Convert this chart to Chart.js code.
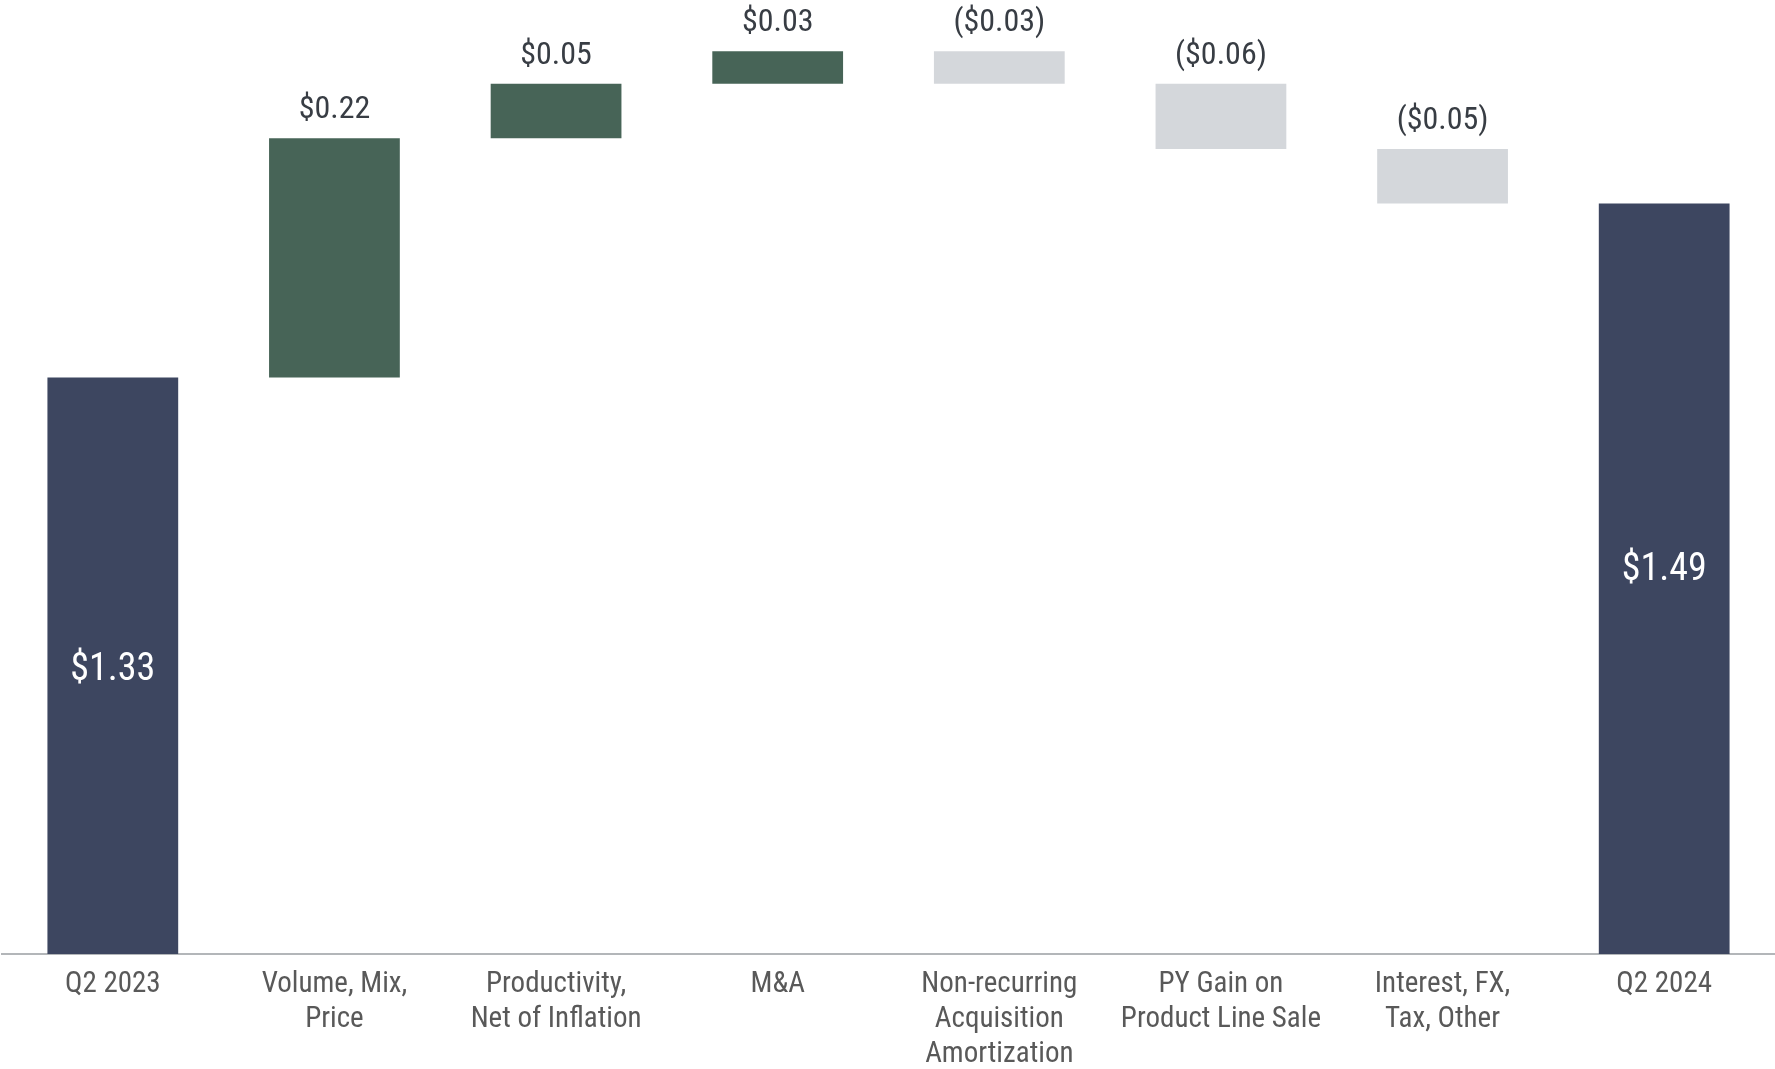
<!DOCTYPE html>
<html>
<head>
<meta charset="utf-8">
<script src="https://cdn.jsdelivr.net/npm/chart.js@4"></script>
<style>
  html, body { margin: 0; padding: 0; background: #fff; }
  #wrap { width: 1775px; height: 1069px; position: relative; }
</style>
</head>
<body>
<div id="wrap"><canvas id="bridge"></canvas></div>
<script>
// 数据
const categories = [
  'Q2 2023',
  ['Volume, Mix,', 'Price'],
  ['Productivity,', 'Net of Inflation'],
  'M&A',
  ['Non-recurring', 'Acquisition', 'Amortization'],
  ['PY Gain on', 'Product Line Sale'],
  ['Interest, FX,', 'Tax, Other'],
  'Q2 2024'
];
const startValue = 1.33;
const changes = [0.22, 0.05, 0.03, -0.03, -0.06, -0.05];
const endValue = 1.49;
const Y_MIN = 0.8;
const Y_MAX = 1.677;

const COLORS = {
  total: '#3d4660',
  up: '#476457',
  down: '#d4d7db',
  axis: '#b3b6b9',
  tick: '#595959',
  label: '#383d44'
};

const FONT = "'Roboto Condensed', 'Liberation Sans Narrow', 'DejaVu Sans Condensed', Roboto, sans-serif";

// 浮动柱：[低, 高]
const ranges = [];
const colors = [];
const labels = [];
ranges.push([Y_MIN, startValue]);
colors.push(COLORS.total);
labels.push('$' + startValue.toFixed(2));
let run = startValue;
changes.forEach(c => {
  const next = run + c;
  ranges.push([Math.min(run, next), Math.max(run, next)]);
  colors.push(c >= 0 ? COLORS.up : COLORS.down);
  labels.push(c >= 0 ? '$' + c.toFixed(2) : '($' + Math.abs(c).toFixed(2) + ')');
  run = next;
});
ranges.push([Y_MIN, endValue]);
colors.push(COLORS.total);
labels.push('$' + endValue.toFixed(2));

// 数值标签插件（合计柱内白字，变动柱上方）
const valueLabels = {
  id: 'valueLabels',
  afterDatasetsDraw(chart) {
    const ctx = chart.ctx;
    const meta = chart.getDatasetMeta(0);
    const last = meta.data.length - 1;
    ctx.save();
    ctx.textAlign = 'center';
    ctx.textBaseline = 'middle';
    meta.data.forEach((bar, i) => {
      if (i === 0 || i === last) {
        ctx.font = '38px ' + FONT;
        ctx.fillStyle = '#ffffff';
        const nudge = i === 0 ? 5 : -8;
        ctx.fillText(labels[i], bar.x, (bar.y + bar.base) / 2 + nudge);
      } else {
        ctx.font = '32px ' + FONT;
        ctx.fillStyle = COLORS.label;
        const top = Math.min(bar.y, bar.base);
        ctx.fillText(labels[i], bar.x, top - 28);
      }
    });
    ctx.restore();
  }
};

new Chart(document.getElementById('bridge'), {
  type: 'bar',
  data: {
    labels: categories,
    datasets: [{
      data: ranges,
      backgroundColor: colors,
      borderWidth: 0,
      barPercentage: 0.59,
      categoryPercentage: 1.0
    }]
  },
  options: {
    responsive: true,
    maintainAspectRatio: false,
    animation: false,
    layout: { padding: { left: 2, right: 0, top: 0, bottom: 0 } },
    plugins: {
      legend: { display: false },
      tooltip: { enabled: false }
    },
    scales: {
      x: {
        grid: { display: false, drawTicks: false },
        border: { display: true, color: COLORS.axis, width: 2 },
        ticks: {
          color: COLORS.tick,
          font: { family: FONT, size: 29, lineHeight: 1.21 },
          padding: 13,
          maxRotation: 0,
          autoSkip: false
        },
        afterFit(scale) { scale.height = 115; }
      },
      y: {
        display: false,
        min: Y_MIN,
        max: Y_MAX
      }
    }
  },
  plugins: [valueLabels]
});
</script>
</body>
</html>
